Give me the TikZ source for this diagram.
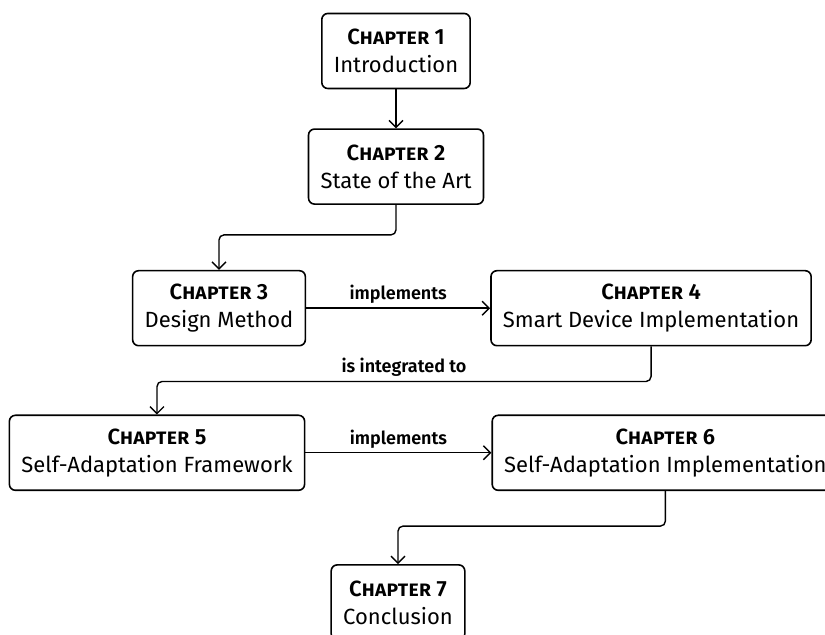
\documentclass[tikz,border=0pt]{standalone}
\usepackage{fontspec}
\setmainfont{Fira Sans}[BoldFont={Fira Sans SemiBold}]
\usepackage{tikz}
\usetikzlibrary{positioning, arrows.meta}
\tikzstyle{chapter} = [rectangle, rounded corners=3pt, minimum height=37.5pt, inner xsep=6pt, align=center, draw=black, line width=0.8pt, font=\fontsize{11}{14}\selectfont]
\tikzstyle{arrow} = [line width=0.7pt, rounded corners=2.5pt, -{Straight Barb[length=3.5pt,width=7pt]}]
\tikzstyle{edgetext} = [above, inner sep=2pt, font=\fontsize{9}{11}\selectfont\bfseries]
\newcommand{\chaphead}[1]{{\bfseries\scshape Chapter #1}}

\begin{document}
\begin{tikzpicture}
\useasboundingbox (-198pt,25.5pt) rectangle (214.5pt,-292pt);
\node (ch1) [chapter] {\chaphead{1}\\Introduction};
\node (ch2) [chapter, below=19.5pt of ch1] {\chaphead{2}\\State of the Art};
\node (ch3) [chapter, below=32.5pt of ch2, xshift=-88.5pt] {\chaphead{3}\\Design Method};
\node (ch4) [chapter, right=92pt of ch3] {\chaphead{4}\\Smart Device Implementation};
\node (ch5) [chapter, below=34pt of ch3, xshift=-31pt] {\chaphead{5}\\Self-Adaptation Framework};
\node (ch6) [chapter, right=93pt of ch5] {\chaphead{6}\\Self-Adaptation Implementation};
\node (ch7) [chapter, below=36.5pt of ch5, xshift=120.5pt] {\chaphead{7}\\Conclusion};
\draw [arrow] (ch1) -- (ch2);
\draw [arrow] (ch2.south) -- ++(0,-15pt) -| (ch3.north);
\draw [arrow] (ch3) -- node [edgetext] {implements} (ch4);
\draw [arrow] (ch4.south) -- ++(0,-17.5pt) -| node [edgetext, pos=0.25] {is integrated to} (ch5.north);
\draw [arrow] (ch5) -- node [edgetext] {implements} (ch6);
\draw [arrow] (ch6.south) -- ++(0,-17.5pt) -| (ch7.north);
\end{tikzpicture}
\end{document}
